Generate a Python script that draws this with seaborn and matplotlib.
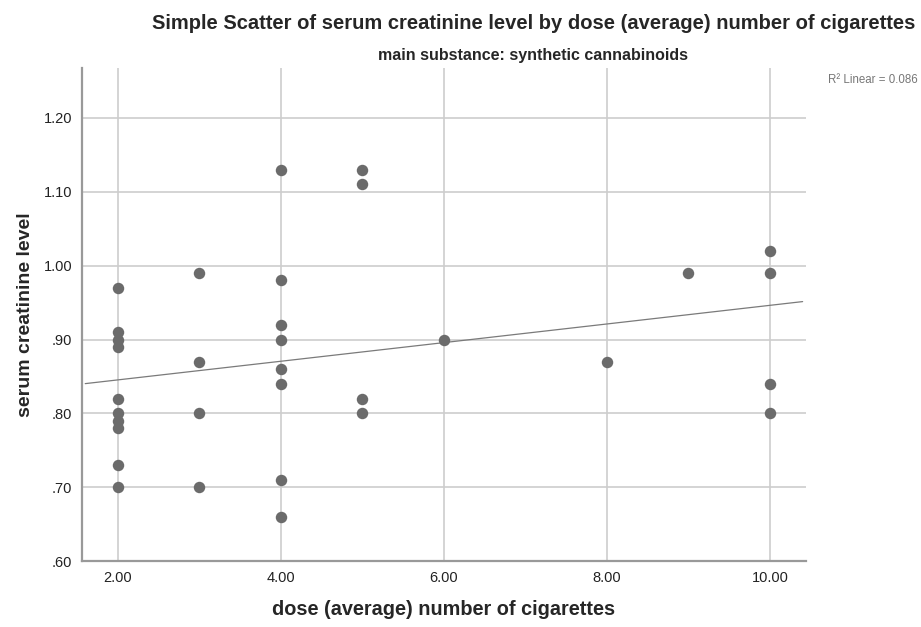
import matplotlib
matplotlib.use('Agg')
import matplotlib.pyplot as plt
import seaborn as sns
import pandas as pd
from matplotlib.ticker import FuncFormatter

# valeurs
dose = [2, 2, 2, 2, 2, 2, 2, 2, 2, 2,
        3, 3, 3, 3,
        4, 4, 4, 4, 4, 4, 4, 4,
        5, 5, 5, 5,
        6, 8, 9,
        10, 10, 10, 10]
creatinine = [0.97, 0.91, 0.90, 0.89, 0.82, 0.80, 0.79, 0.78, 0.73, 0.70,
              0.99, 0.87, 0.80, 0.70,
              1.13, 0.98, 0.92, 0.90, 0.86, 0.84, 0.71, 0.66,
              1.13, 1.11, 0.82, 0.80,
              0.90, 0.87, 0.99,
              1.02, 0.99, 0.84, 0.80]
x_ticks = [2, 4, 6, 8, 10]
y_ticks = [0.60, 0.70, 0.80, 0.90, 1.00, 1.10, 1.20]

donnees = pd.DataFrame({'dose': dose, 'creat': creatinine})

sns.set_style('white')
plt.rcParams['font.family'] = ['Liberation Sans', 'DejaVu Sans']

fig = plt.figure(figsize=(9.21, 6.27), dpi=100)
ax = fig.add_axes([0.089, 0.105, 0.786, 0.787])

sns.regplot(x='dose', y='creat', data=donnees, ci=None, truncate=False, ax=ax,
            scatter_kws={'s': 68, 'color': '#6b6b6b', 'alpha': 1, 'linewidths': 0, 'zorder': 3},
            line_kws={'color': '#7a7a7a', 'linewidth': 0.9, 'zorder': 2})

ax.set_xlim(1.56, 10.44)
ax.set_ylim(0.60, 1.268)
ax.set_xticks(x_ticks)
ax.set_yticks(y_ticks)
ax.xaxis.set_major_formatter(FuncFormatter(lambda v, p: f'{v:.2f}'))
ax.yaxis.set_major_formatter(FuncFormatter(lambda v, p: f'{v:.2f}'.lstrip('0')))
ax.grid(True, color='#cdcdcd', linewidth=1.2)
ax.set_axisbelow(True)
ax.tick_params(length=0, labelsize=10.5, colors='#222222')
ax.tick_params(axis='x', pad=7)
ax.tick_params(axis='y', pad=7)
for s in ['top', 'right']:
    ax.spines[s].set_visible(False)
for s in ['left', 'bottom']:
    ax.spines[s].set_color('#999999')
    ax.spines[s].set_linewidth(1.6)

ax.set_xlabel('dose (average) number of cigarettes', fontsize=14.3, fontweight='bold', labelpad=11)
ax.set_ylabel('serum creatinine level', fontsize=14, fontweight='bold', labelpad=7)

fig.text(0.579, 0.962, 'Simple Scatter of serum creatinine level by dose (average) number of cigarettes',
         ha='center', va='center', fontsize=14.5, fontweight='bold')
fig.text(0.579, 0.912, 'main substance: synthetic cannabinoids',
         ha='center', va='center', fontsize=11.5, fontweight='bold')
fig.text(0.997, 0.872, 'R² Linear = 0.086', ha='right', va='center', fontsize=8.3, color='#777777')

plt.savefig('out.png', dpi=100)
